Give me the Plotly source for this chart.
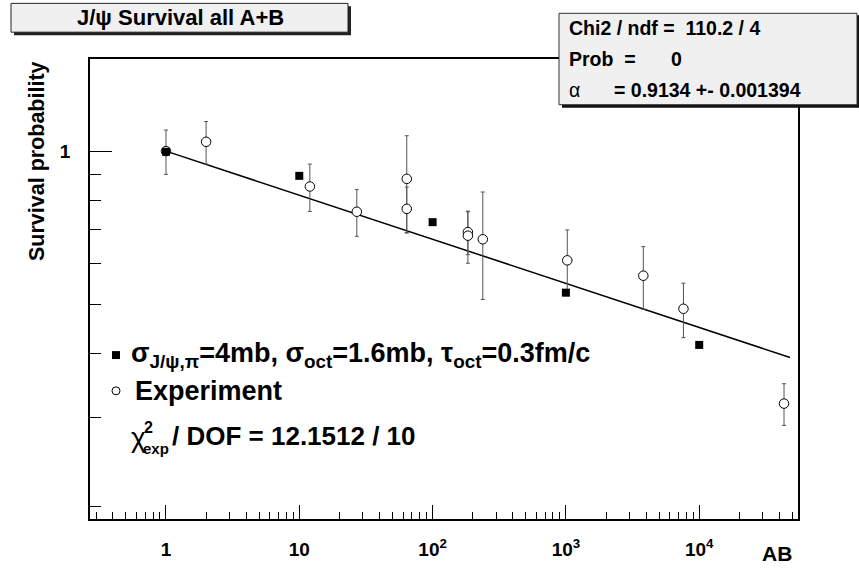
import plotly.graph_objects as go

# ---------------- data ----------------
ab_exp = [1, 2, 12, 27, 64, 64, 184, 184, 238, 1024, 3808, 7616, 43264]
surv_exp = [1.00, 1.043, 0.852, 0.760, 0.882, 0.770, 0.693, 0.682, 0.671, 0.610, 0.569, 0.490, 0.319]
err_exp = [0.10, 0.10, 0.091, 0.080, 0.19, 0.08, 0.067, 0.08, 0.16, 0.09, 0.08, 0.06, 0.03]

ab_model = [1, 10, 100, 1000, 10000]
surv_model = [0.997, 0.894, 0.725, 0.527, 0.416]

fit_ab = [1, 48000]
fit_surv = [1.0, 0.393]

x_tickvals = [1, 10, 100, 1000, 10000]
x_ticktext = ["1", "10", "10<sup>2</sup>", "10<sup>3</sup>", "10<sup>4</sup>"]
x_minor = [m * 10 ** e for e in range(-1, 5) for m in range(2, 10)
           if 0.27 < m * 10 ** e < 55000 and m * 10 ** e not in x_tickvals]
y_tickvals = [1]
y_ticktext = ["1"]
y_minor = [0.2, 0.3, 0.4, 0.5, 0.6, 0.7, 0.8, 0.9]

FONT = "Liberation Sans, Arial, Helvetica, sans-serif"
W, H = 859, 572
L, R, T, B = 90, 798, 59, 522


def px(x):
    return (x - L) / (R - L)


def py(y):
    return (B - y) / (B - T)


fig = go.Figure()

fig.add_trace(go.Scatter(
    x=fit_ab, y=fit_surv, mode="lines",
    line=dict(color="black", width=1.5), showlegend=False, hoverinfo="skip"))

fig.add_trace(go.Scatter(
    x=ab_exp, y=surv_exp, mode="markers",
    marker=dict(symbol="circle", size=9.5, color="white",
                line=dict(color="black", width=1)),
    error_y=dict(type="data", array=err_exp, color="#555555", thickness=1, width=2),
    showlegend=False))

fig.add_trace(go.Scatter(
    x=ab_model, y=surv_model, mode="markers",
    marker=dict(symbol="square", size=8, color="black", line=dict(width=0)),
    showlegend=False))

shapes = []
# title box with shadow
shapes.append(dict(type="rect", xref="paper", yref="paper", layer="above",
                   x0=px(14), x1=px(351), y0=py(35), y1=py(6),
                   fillcolor="#222222", line=dict(width=0)))
shapes.append(dict(type="rect", xref="paper", yref="paper", layer="above",
                   x0=px(11), x1=px(348), y0=py(32), y1=py(3),
                   fillcolor="#f0f0f0", line=dict(color="#222222", width=1)))
# stats box with shadow
shapes.append(dict(type="rect", xref="paper", yref="paper", layer="above",
                   x0=px(562), x1=px(861), y0=py(108), y1=py(15),
                   fillcolor="#111111", line=dict(width=0)))
shapes.append(dict(type="rect", xref="paper", yref="paper", layer="above",
                   x0=px(559), x1=px(857), y0=py(105), y1=py(13),
                   fillcolor="#f0f0f0", line=dict(color="#333333", width=1)))
# legend markers
shapes.append(dict(type="rect", xref="paper", yref="paper", layer="above",
                   x0=px(112), x1=px(120), y0=py(361), y1=py(353),
                   fillcolor="black", line=dict(width=0)))
shapes.append(dict(type="circle", xref="paper", yref="paper", layer="above",
                   x0=px(112), x1=px(120), y0=py(397), y1=py(389),
                   fillcolor="white", line=dict(color="black", width=1)))

ann = []


def text(x, y, s, size, xanchor="left", yanchor="middle", angle=0):
    ann.append(dict(x=px(x), y=py(y), xref="paper", yref="paper", text=s,
                    showarrow=False, xanchor=xanchor, yanchor=yanchor,
                    textangle=angle, font=dict(family=FONT, size=size, color="black")))


text(180, 17.5, "<b>J/ψ Survival all A+B</b>", 22, xanchor="center")
text(567, 28, "<b>Chi2 / ndf =\u00a0 110.2 / 4</b>", 19.5)
text(567, 59, "<b>Prob\u00a0 =</b>", 19.5)
text(669, 59, "<b>0</b>", 19.5)
text(567, 90, "α", 19.5)
text(612, 90, "<b>= 0.9134 +- 0.001394</b>", 19.5)

text(129, 357, "<b>σ<sub>J/ψ,π</sub>=4mb, σ<sub>oct</sub>=1.6mb, τ<sub>oct</sub>=0.3fm/c</b>", 27)
text(133, 393, "<b>Experiment</b>", 27)
text(129, 440, "χ", 28)
text(142, 430, "<b>2</b>", 16)
text(141, 451, "<b>exp</b>", 15)
text(170, 438, "<b>/ DOF = 12.1512 / 10</b>", 26)

text(37, 59, "<b>Survival probability</b>", 21.5, xanchor="center", yanchor="top", angle=-90)
text(777, 557, "<b>AB</b>", 21, xanchor="center")

fig.update_layout(
    width=W, height=H, autosize=False,
    margin=dict(l=L, r=W - R, t=T, b=H - B, pad=0),
    paper_bgcolor="white", plot_bgcolor="white",
    shapes=shapes, annotations=ann, showlegend=False,
    font=dict(family=FONT, color="black"),
)

fig.update_xaxes(
    type="log", range=[-0.570, 4.741],
    tickmode="array", tickvals=x_tickvals, ticktext=x_ticktext,
    ticks="inside", ticklen=14, tickwidth=1, tickcolor="black",
    tickfont=dict(family=FONT, size=19, color="black", weight="bold"),
    ticklabelstandoff=12,
    showline=True, linecolor="black", linewidth=1.5, mirror=True,
    showgrid=False, zeroline=False,
    minor=dict(tickmode="array", tickvals=x_minor, ticks="inside", ticklen=7,
               tickwidth=1, tickcolor="black", showgrid=False),
)
fig.update_yaxes(
    type="log", range=[-0.723, 0.181],
    tickmode="array", tickvals=y_tickvals, ticktext=y_ticktext,
    ticks="inside", ticklen=22, tickwidth=1, tickcolor="black",
    tickfont=dict(family=FONT, size=19, color="black", weight="bold"),
    ticklabelstandoff=14,
    showline=True, linecolor="black", linewidth=1.5, mirror=True,
    showgrid=False, zeroline=False,
    minor=dict(tickmode="array", tickvals=y_minor, ticks="inside", ticklen=11,
               tickwidth=1, tickcolor="black", showgrid=False),
)

fig.write_html("out.html")
